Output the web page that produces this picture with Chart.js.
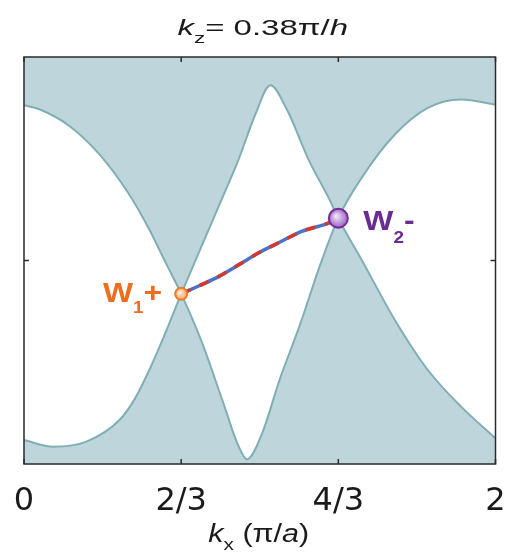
<!DOCTYPE html>
<html>
<head>
<meta charset="utf-8">
<script src="https://cdn.jsdelivr.net/npm/chart.js@4.4.1/dist/chart.umd.min.js"></script>
<style>
  html, body { margin: 0; padding: 0; background: #fff; }
</style>
</head>
<body>
<canvas id="grafico" width="507" height="553"></canvas>
<script>
// bandas (kx em pi/a, energia normalizada -1..1)
const kxBanda1 = [0, 0.068, 0.194, 0.321, 0.447, 0.532, 0.602, 0.667, 0.756, 0.841, 0.911, 0.946, 1.010, 1.084, 1.173, 1.249, 1.333, 1.432, 1.573, 1.713, 1.854, 2.0];
const banda1   = [0.763, 0.742, 0.660, 0.520, 0.323, 0.151, -0.013, -0.164, -0.406, -0.685, -0.915, -0.977, -0.849, -0.587, -0.308, -0.046, 0.208, 0.406, 0.619, 0.750, 0.791, 0.766];

const kxBanda2 = [0, 0.124, 0.265, 0.405, 0.470, 0.532, 0.600, 0.667, 0.747, 0.838, 0.910, 0.982, 1.045, 1.115, 1.207, 1.296, 1.333, 1.432, 1.573, 1.713, 1.854, 2.0];
const banda2   = [-0.882, -0.915, -0.890, -0.784, -0.680, -0.537, -0.355, -0.164, 0.053, 0.299, 0.496, 0.720, 0.861, 0.742, 0.496, 0.299, 0.208, 0.004, -0.292, -0.538, -0.718, -0.874];

// linha nodal entre W1 e W2
const kxNodal = [0.667, 0.743, 0.827, 0.911, 0.996, 1.080, 1.178, 1.291, 1.333];
const nodal   = [-0.164, -0.124, -0.078, -0.021, 0.038, 0.087, 0.143, 0.184, 0.208];

// pontos de Weyl
const weylKx = [2/3, 4/3];
const weylE  = [-0.164, 0.208];

const tickValues = [0, 2/3, 4/3, 2];
const tickLabels = ['0', '2/3', '4/3', '2'];
const yTicks = [0];

const corBorda = '#80aeb5';
const corFundo = '#bed6db';

const toPts = (xs, ys) => xs.map((x, i) => ({ x: x, y: ys[i] }));

// escreve texto com partes (italico, subscrito...) esticado na horizontal
function desenhaTexto(ctx, partes, x0, base, escala, alinha) {
  ctx.save();
  let total = 0;
  partes.forEach(p => { ctx.font = p.font; p.w = ctx.measureText(p.t).width; total += p.w; });
  let inicio = x0 - total * escala / 2;
  if (alinha === 'right') inicio = x0 - total * escala;
  if (alinha === 'left') inicio = x0;
  ctx.translate(inicio, base);
  ctx.scale(escala, 1);
  ctx.textAlign = 'left';
  ctx.textBaseline = 'alphabetic';
  let x = 0;
  partes.forEach(p => {
    ctx.font = p.font;
    ctx.fillStyle = p.cor || '#1a1a1a';
    ctx.fillText(p.t, x, p.dy || 0);
    x += p.w;
  });
  ctx.restore();
}

function gradiente(c, centro, borda, r) {
  const sx = c.chart.scales.x, sy = c.chart.scales.y;
  if (!c.parsed || !sx || !sy) return borda;
  const px = sx.getPixelForValue(c.parsed.x), py = sy.getPixelForValue(c.parsed.y);
  if (!isFinite(px) || !isFinite(py)) return borda;
  const g = c.chart.ctx.createRadialGradient(px - r * 0.25, py - r * 0.25, 0.5, px, py, r);
  g.addColorStop(0, centro);
  g.addColorStop(1, borda);
  return g;
}

const moldura = {
  id: 'moldura',
  beforeDraw(chart) {
    const { ctx, chartArea: a } = chart;
    ctx.save();
    ctx.fillStyle = corFundo;
    ctx.fillRect(a.left, a.top, a.right - a.left, a.bottom - a.top);
    ctx.restore();
  },
  afterDraw(chart) {
    const { ctx, chartArea: a } = chart;
    const x = chart.scales.x, y = chart.scales.y;
    ctx.save();
    ctx.strokeStyle = '#2b2b2b';
    ctx.lineWidth = 1.5;
    ctx.strokeRect(a.left, a.top, a.right - a.left, a.bottom - a.top);
    ctx.beginPath();
    tickValues.forEach(v => {
      const px = x.getPixelForValue(v);
      ctx.moveTo(px, a.bottom); ctx.lineTo(px, a.bottom - 5);
      ctx.moveTo(px, a.top); ctx.lineTo(px, a.top + 5);
    });
    yTicks.forEach(v => {
      const py = y.getPixelForValue(v);
      ctx.moveTo(a.left, py); ctx.lineTo(a.left + 5, py);
      ctx.moveTo(a.right, py); ctx.lineTo(a.right - 5, py);
    });
    ctx.stroke();
    ctx.restore();

    // rotulos dos pontos de Weyl
    const laranja = '#ee6c1d', roxo = '#6a2c90';
    const f = '"Liberation Sans", Arial, sans-serif';
    const w1x = x.getPixelForValue(weylKx[0]), w1y = y.getPixelForValue(weylE[0]);
    desenhaTexto(ctx, [
      { t: 'W', font: 'bold 27px ' + f, cor: laranja },
      { t: '1', font: 'bold 16px ' + f, cor: laranja, dy: 11 },
      { t: '+', font: 'bold 27px ' + f, cor: laranja }
    ], w1x - 19, w1y + 8, 1.18, 'right');
    const w2x = x.getPixelForValue(weylKx[1]), w2y = y.getPixelForValue(weylE[1]);
    desenhaTexto(ctx, [
      { t: 'W', font: 'bold 27px ' + f, cor: roxo },
      { t: '2', font: 'bold 16px ' + f, cor: roxo, dy: 13 },
      { t: '-', font: 'bold 27px ' + f, cor: roxo }
    ], w2x + 25, w2y + 11.5, 1.18, 'left');

    // titulo e nome do eixo
    const meio = (a.left + a.right) / 2;
    desenhaTexto(ctx, [
      { t: 'k', font: 'italic 22px ' + f },
      { t: 'z', font: '15px ' + f, dy: 8 },
      { t: '= 0.38\u03c0/', font: '22px ' + f },
      { t: 'h', font: 'italic 22px ' + f }
    ], meio + 3, a.top - 22, 1.5, 'center');
    desenhaTexto(ctx, [
      { t: 'k', font: 'italic 25px ' + f },
      { t: 'x', font: '17px ' + f, dy: 8 },
      { t: ' (\u03c0/', font: '25px ' + f },
      { t: 'a', font: 'italic 25px ' + f },
      { t: ')', font: '25px ' + f }
    ], meio - 1, a.bottom + 78, 1.22, 'center');
  }
};

new Chart(document.getElementById('grafico').getContext('2d'), {
  type: 'line',
  data: {
    datasets: [
      {
        label: 'banda1',
        data: toPts(kxBanda1, banda1),
        borderColor: corBorda,
        borderWidth: 2,
        backgroundColor: '#ffffff',
        fill: '+1',
        pointRadius: 0,
        cubicInterpolationMode: 'monotone',
        order: 3
      },
      {
        label: 'banda2',
        data: toPts(kxBanda2, banda2),
        borderColor: corBorda,
        borderWidth: 2,
        fill: false,
        pointRadius: 0,
        cubicInterpolationMode: 'monotone',
        order: 4
      },
      {
        label: 'nodal azul',
        data: toPts(kxNodal, nodal),
        borderColor: '#4c72c6',
        borderWidth: 3.5,
        fill: false,
        pointRadius: 0,
        cubicInterpolationMode: 'monotone',
        order: 2
      },
      {
        label: 'nodal vermelho',
        data: toPts(kxNodal, nodal),
        borderColor: '#d3382c',
        borderWidth: 3.5,
        borderDash: [10, 10],
        fill: false,
        pointRadius: 0,
        cubicInterpolationMode: 'monotone',
        order: 1
      },
      {
        label: 'W1',
        data: [{ x: weylKx[0], y: weylE[0] }],
        showLine: false,
        pointRadius: 6,
        pointBorderWidth: 2,
        pointBorderColor: '#f07a22',
        pointBackgroundColor: c => gradiente(c, '#fff1e2', '#f5a15a', 6),
        order: 0
      },
      {
        label: 'W2',
        data: [{ x: weylKx[1], y: weylE[1] }],
        showLine: false,
        pointRadius: 9.5,
        pointBorderWidth: 2,
        pointBorderColor: '#6e2e96',
        pointBackgroundColor: c => gradiente(c, '#f3e6fa', '#9d62c6', 9.5),
        order: 0
      }
    ]
  },
  options: {
    responsive: false,
    animation: false,
    events: [],
    layout: { padding: { left: 24, right: 9, top: 57, bottom: 0 } },
    plugins: {
      legend: { display: false },
      tooltip: { enabled: false },
      filler: { drawTime: 'beforeDatasetsDraw' }
    },
    scales: {
      x: {
        type: 'linear',
        min: 0,
        max: 2,
        afterBuildTicks: s => { s.ticks = tickValues.map(v => ({ value: v })); },
        afterFit: s => { s.height = 89; s.paddingLeft = 0; s.paddingRight = 0; },
        grid: { display: false, drawTicks: false },
        border: { display: false },
        ticks: {
          callback: (v, i) => tickLabels[i],
          font: { family: 'DejaVu Sans', size: 32 },
          color: '#1a1a1a',
          padding: 18,
          maxRotation: 0,
          autoSkip: false
        }
      },
      y: { type: 'linear', min: -1, max: 1, display: false }
    }
  },
  plugins: [moldura]
});
</script>
</body>
</html>
